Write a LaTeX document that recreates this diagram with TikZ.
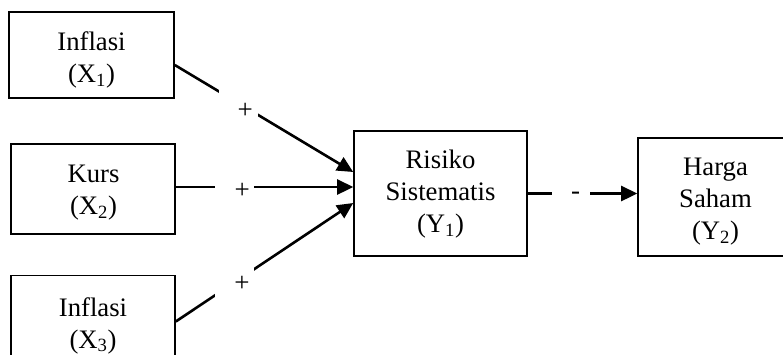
\documentclass[tikz,border=0pt]{standalone}
\usepackage{fontspec}
\setmainfont{Liberation Serif}
\usetikzlibrary{arrows.meta,calc}
\begin{document}
\begin{tikzpicture}[x=1pt,y=-1pt,
  box/.style={draw, line width=1.6pt, inner sep=0pt},
  txt/.style={align=center, font=\fontsize{26.7}{32}\selectfont, inner sep=0pt},
  arr/.style={line width=2.6pt, -{Triangle[length=16pt,width=15pt]}},
  gap/.style={fill=white, inner sep=0pt, minimum width=39pt, minimum height=30pt},
  sign/.style={font=\fontsize{27}{30}\selectfont, inner sep=0pt}]
\fill[white] (0,0) rectangle (783,354);
\useasboundingbox (0,0) rectangle (783,354);

% independent variables
\node[box, minimum width=165pt, minimum height=86pt] (x1) at (91.5,55) {};
\node[txt] (x1t) at (91.5,60) {Inflasi\\(X\textsubscript{1})};
\node[box, minimum width=164pt, minimum height=90pt] (x2) at (93,189) {};
\node[txt] (x2t) at (93.5,192.5) {Kurs\\(X\textsubscript{2})};
\node[box, minimum width=164pt, minimum height=92pt] (x3) at (93,321.5) {};
\node[txt] (x3t) at (93,325.5) {Inflasi\\(X\textsubscript{3})};

% intervening and dependent variables
\node[box, minimum width=173pt, minimum height=125pt] (y1) at (440.5,193.5) {};
\node[txt] (y1t) at (440.5,194) {Risiko\\Sistematis\\(Y\textsubscript{1})};
\node[box, minimum width=155pt, minimum height=118pt] (y2) at (715.5,197) {};
\node[txt] (y2t) at (715.5,202) {Harga\\Saham\\(Y\textsubscript{2})};

% effects, each sign sitting in a break of its arrow
\draw[arr] ([yshift=-10pt]x1.east) --
  node[gap, pos=0.356, label={[sign,xshift=7pt,yshift=-7.5pt]center:+}] (g1) {}
  ([yshift=21.5pt]y1.west);
\draw[arr] ([yshift=2pt]x2.east) --
  node[gap, pos=0.33, label={[sign,xshift=8pt,yshift=-4pt]center:+}] (g2) {}
  ([yshift=6.5pt]y1.west);
\draw[arr] (x3.east) --
  node[gap, pos=0.333, label={[sign,xshift=7pt,yshift=-2pt]center:+}] (g3) {}
  ([yshift=-9.5pt]y1.west);
\draw[arr] (y1.east) --
  node[gap, pos=0.396, minimum width=38pt, label={[sign,xshift=4.5pt,yshift=-2pt]center:-}] (g4) {}
  (y1.east -| y2.west);
\end{tikzpicture}
\end{document}
